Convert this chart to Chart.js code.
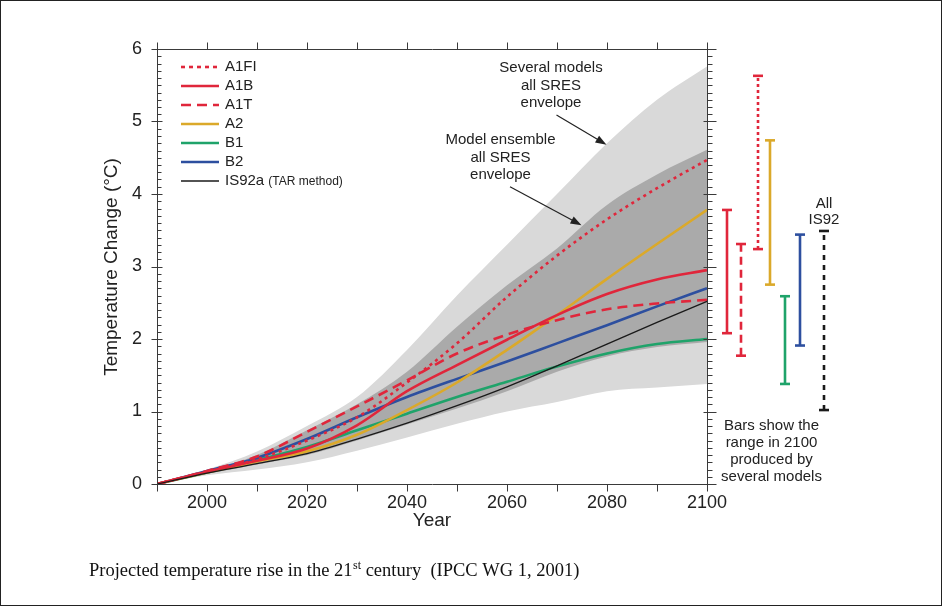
<!DOCTYPE html>
<html>
<head>
<meta charset="utf-8">
<title>Projected temperature rise in the 21st century</title>
<script src="https://cdn.jsdelivr.net/npm/chart.js@4.4.1/dist/chart.umd.min.js"></script>
<style>
  html, body { margin: 0; padding: 0; background: #fff; }
  #wrap { position: relative; width: 942px; height: 606px; }
  #frame { position: absolute; left: 0; top: 0; width: 940px; height: 604px; border: 1px solid #222; pointer-events: none; }
</style>
</head>
<body>
<div id="wrap">
  <canvas id="tempChart" width="942" height="606"></canvas>
  <div id="frame"></div>
</div>
<script>
// values (deg C relative to 1990)
const years = [1990, 2000, 2010, 2020, 2030, 2040, 2050, 2060, 2070, 2080, 2090, 2100];

const a1fi  = [0, 0.17, 0.34, 0.60, 0.92, 1.40, 1.94, 2.58, 3.15, 3.65, 4.08, 4.47];
const a1b   = [0, 0.17, 0.32, 0.49, 0.81, 1.28, 1.64, 1.99, 2.33, 2.62, 2.82, 2.95];
const a1t   = [0, 0.18, 0.38, 0.72, 1.07, 1.43, 1.80, 2.06, 2.26, 2.41, 2.49, 2.54];
const a2    = [0, 0.16, 0.31, 0.45, 0.68, 1.02, 1.40, 1.85, 2.33, 2.83, 3.31, 3.78];
const b1    = [0, 0.16, 0.33, 0.51, 0.74, 0.97, 1.20, 1.41, 1.62, 1.80, 1.93, 2.00];
const b2    = [0, 0.18, 0.36, 0.62, 0.92, 1.20, 1.45, 1.69, 1.94, 2.19, 2.45, 2.70];
const is92a = [0, 0.15, 0.28, 0.42, 0.62, 0.84, 1.08, 1.34, 1.63, 1.93, 2.23, 2.52];

// envelopes
const severalLow  = [0, 0.12, 0.20, 0.30, 0.46, 0.64, 0.83, 1.00, 1.13, 1.28, 1.33, 1.38];
const severalHigh = [0, 0.20, 0.45, 0.80, 1.20, 1.85, 2.60, 3.30, 4.00, 4.70, 5.30, 5.76];
const ensembleLow  = [0, 0.14, 0.27, 0.40, 0.60, 0.82, 1.04, 1.28, 1.55, 1.76, 1.89, 1.96];
const ensembleHigh = [0, 0.18, 0.40, 0.74, 1.10, 1.55, 2.17, 2.74, 3.25, 3.85, 4.27, 4.61];

// range bars in 2100
const barNames = ['A1B', 'A1T', 'A1FI', 'A2', 'B1', 'B2', 'IS92'];
const barMin = [2.08, 1.77, 3.24, 2.75, 1.38, 1.91, 1.02];
const barMax = [3.78, 3.31, 5.63, 4.74, 2.59, 3.44, 3.49];

const xTicks = [2000, 2020, 2040, 2060, 2080, 2100];
const yTicks = [0, 1, 2, 3, 4, 5, 6];

const RED = '#e0263b';
const GOLD = '#dba92a';
const GREEN = '#1fa36a';
const BLUE = '#2d4f9f';
const BLACK = '#1a1a1a';
const LIGHT = '#d9d9d9';
const DARK = '#aaaaaa';
const INK = '#222';
const SANS = '"Liberation Sans", Arial, Helvetica, sans-serif';

const series = [
    { label: 'A1FI', data: a1fi, color: RED, dash: [3, 4], width: 2.6, order: 2 },
    { label: 'A1B', data: a1b, color: RED, dash: [], width: 2.6, order: 4 },
    { label: 'A1T', data: a1t, color: RED, dash: [10, 6], width: 2.6, order: 3 },
    { label: 'A2', data: a2, color: GOLD, dash: [], width: 2.6, order: 5 },
    { label: 'B1', data: b1, color: GREEN, dash: [], width: 2.6, order: 7 },
    { label: 'B2', data: b2, color: BLUE, dash: [], width: 2.6, order: 6 },
    { label: 'IS92a', data: is92a, color: BLACK, dash: [], width: 1.3, order: 1 }
];

// where each range bar sits, in years to the right of 2100, and how it is drawn
const barStyle = {
    A1B:  { slot: 4.0,  color: RED,   dash: [] },
    A1T:  { slot: 6.8,  color: RED,   dash: [8, 5] },
    A1FI: { slot: 10.2, color: RED,   dash: [3, 3] },
    A2:   { slot: 12.6, color: GOLD,  dash: [] },
    B1:   { slot: 15.6, color: GREEN, dash: [] },
    B2:   { slot: 18.6, color: BLUE,  dash: [] },
    IS92: { slot: 23.4, color: BLACK, dash: [5, 5] }
};

function toPoints(values) {
    return years.map((yr, i) => ({ x: yr, y: values[i] }));
}

function bandEdge(values, color, fillTarget, order) {
    return {
        data: toPoints(values),
        borderColor: 'rgba(0,0,0,0)',
        borderWidth: 1,
        backgroundColor: color,
        fill: fillTarget,
        pointRadius: 0,
        cubicInterpolationMode: 'monotone',
        order: order
    };
}

const datasets = [
    bandEdge(severalLow, LIGHT, false, 30),
    bandEdge(severalHigh, LIGHT, 0, 30),
    bandEdge(ensembleLow, DARK, false, 20),
    bandEdge(ensembleHigh, DARK, 2, 20)
];

series.forEach(s => {
    datasets.push({
        label: s.label,
        data: toPoints(s.data),
        borderColor: s.color,
        borderWidth: s.width,
        borderDash: s.dash,
        borderCapStyle: 'butt',
        fill: false,
        pointRadius: 0,
        cubicInterpolationMode: 'monotone',
        order: s.order
    });
});

barNames.forEach((name, i) => {
    const st = barStyle[name];
    const bx = 2100 + st.slot;
    datasets.push({
        label: name + ' range',
        data: [{ x: bx, y: barMin[i] }, { x: bx, y: barMax[i] }],
        borderColor: st.color,
        borderWidth: 2.6,
        borderDash: st.dash,
        fill: false,
        pointStyle: 'line',
        pointRadius: 5,
        pointBorderWidth: 2.6,
        pointBorderColor: st.color,
        order: 0
    });
});

function drawLegend(ctx) {
    const x0 = 181, x1 = 219, tx = 225;
    series.forEach((s, i) => {
        const yy = 67 + i * 19;
        ctx.save();
        ctx.strokeStyle = s.color;
        ctx.lineWidth = s.width;
        ctx.setLineDash(s.label === 'A1FI' ? [4, 4] : s.dash);
        ctx.beginPath();
        ctx.moveTo(x0, yy);
        ctx.lineTo(x1, yy);
        ctx.stroke();
        ctx.restore();

        ctx.fillStyle = INK;
        ctx.textBaseline = 'middle';
        ctx.textAlign = 'left';
        ctx.font = '15px ' + SANS;
        ctx.fillText(s.label, tx, yy);
        if (s.label === 'IS92a') {
            const w = ctx.measureText('IS92a ').width;
            ctx.font = '12px ' + SANS;
            ctx.fillText('(TAR method)', tx + w, yy + 1);
        }
    });
}

function drawArrow(ctx, x1, y1, x2, y2) {
    const ang = Math.atan2(y2 - y1, x2 - x1);
    const c = Math.cos(ang), s = Math.sin(ang);
    const len = 11, half = 4;
    ctx.beginPath();
    ctx.moveTo(x1, y1);
    ctx.lineTo(x2 - c * len * 0.7, y2 - s * len * 0.7);
    ctx.stroke();
    ctx.beginPath();
    ctx.moveTo(x2, y2);
    ctx.lineTo(x2 - c * len + s * half, y2 - s * len - c * half);
    ctx.lineTo(x2 - c * len - s * half, y2 - s * len + c * half);
    ctx.closePath();
    ctx.fill();
}

function textLines(ctx, lines, cx, y0, step) {
    lines.forEach((t, i) => ctx.fillText(t, cx, y0 + i * step));
}

const decor = {
    id: 'decor',
    afterDatasetsDraw(chart) {
        const { ctx, scales: { x, y } } = chart;
        const left = Math.round(x.getPixelForValue(1990)) + 0.5;
        const right = Math.round(x.getPixelForValue(2100)) + 0.5;
        const top = Math.round(y.getPixelForValue(6)) + 0.5;
        const bottom = Math.round(y.getPixelForValue(0)) + 0.5;

        ctx.save();
        ctx.strokeStyle = '#3a3a3a';
        ctx.lineWidth = 1;
        ctx.beginPath();
        ctx.rect(left, top, right - left, bottom - top);

        // year ticks, pointing out of the frame
        for (let yr = 1990; yr <= 2100; yr += 10) {
            const px = Math.round(x.getPixelForValue(yr)) + 0.5;
            ctx.moveTo(px, top); ctx.lineTo(px, top - 7);
            ctx.moveTo(px, bottom); ctx.lineTo(px, bottom + 7);
        }
        // temperature ticks every 0.1
        for (let k = 0; k <= 60; k++) {
            const py = Math.round(y.getPixelForValue(k / 10)) + 0.5;
            if (k % 10 === 0) {
                ctx.moveTo(left - 6, py); ctx.lineTo(left + 5, py);
                ctx.moveTo(right - 4, py); ctx.lineTo(right + 9, py);
            } else {
                ctx.moveTo(left, py); ctx.lineTo(left + 4, py);
                ctx.moveTo(right, py); ctx.lineTo(right + 5, py);
            }
        }
        ctx.stroke();

        // axis titles
        ctx.fillStyle = INK;
        ctx.font = '19px ' + SANS;
        ctx.textAlign = 'center';
        ctx.textBaseline = 'middle';
        ctx.fillText('Year', x.getPixelForValue(2045), 521);
        ctx.save();
        ctx.translate(112, (top + bottom) / 2);
        ctx.rotate(-Math.PI / 2);
        ctx.fillText('Temperature Change (\u00B0C)', 0, 0);
        ctx.restore();

        drawLegend(ctx);

        // envelope notes
        ctx.fillStyle = INK;
        ctx.strokeStyle = INK;
        ctx.lineWidth = 1.2;
        ctx.font = '15px ' + SANS;
        ctx.textAlign = 'center';
        ctx.textBaseline = 'middle';
        textLines(ctx, ['Several models', 'all SRES', 'envelope'], x.getPixelForValue(2068.8), 68, 17.5);
        textLines(ctx, ['Model ensemble', 'all SRES', 'envelope'], x.getPixelForValue(2058.7), 140, 17.5);
        drawArrow(ctx, x.getPixelForValue(2069.9), y.getPixelForValue(5.09),
                       x.getPixelForValue(2079.9), y.getPixelForValue(4.68));
        drawArrow(ctx, x.getPixelForValue(2060.6), y.getPixelForValue(4.10),
                       x.getPixelForValue(2074.9), y.getPixelForValue(3.57));

        // range bar notes
        const isX = x.getPixelForValue(2100 + barStyle.IS92.slot);
        textLines(ctx, ['All', 'IS92'], isX, y.getPixelForValue(barMax[6]) - 27, 15.5);
        textLines(ctx, ['Bars show the', 'range in 2100', 'produced by', 'several models'],
                  x.getPixelForValue(2112.9), 426, 17);

        // caption
        ctx.textAlign = 'left';
        ctx.textBaseline = 'alphabetic';
        ctx.fillStyle = '#111';
        const serif = '"Liberation Serif", "Times New Roman", serif';
        let cx = 89;
        const base = 576;
        ctx.font = '18.5px ' + serif;
        const part1 = 'Projected temperature rise in the 21';
        ctx.fillText(part1, cx, base);
        cx += ctx.measureText(part1).width;
        ctx.font = '12px ' + serif;
        ctx.fillText('st', cx + 0.5, base - 7);
        cx += ctx.measureText('st').width + 0.5;
        ctx.font = '18.5px ' + serif;
        ctx.fillText(' century \u00A0(IPCC WG 1, 2001)', cx, base);

        ctx.restore();
    }
};

const ctx = document.getElementById('tempChart').getContext('2d');
const tempChart = new Chart(ctx, {
    type: 'line',
    data: { datasets: datasets },
    options: {
        responsive: false,
        animation: false,
        devicePixelRatio: 1,
        events: [],
        layout: { padding: { top: 49, right: 85, left: 0, bottom: 0 } },
        plugins: {
            legend: { display: false },
            tooltip: { enabled: false },
            title: { display: false }
        },
        scales: {
            x: {
                type: 'linear',
                min: 1990,
                max: 2130,
                grid: { display: false, drawTicks: false },
                border: { display: false },
                afterBuildTicks: (scale) => { scale.ticks = xTicks.map(v => ({ value: v })); },
                afterFit: (scale) => { scale.height = 122; },
                ticks: {
                    padding: 8,
                    color: INK,
                    maxRotation: 0,
                    autoSkip: false,
                    font: { family: SANS, size: 18 },
                    callback: (v) => String(v)
                }
            },
            y: {
                type: 'linear',
                min: 0,
                max: 6,
                grid: { display: false, drawTicks: false },
                border: { display: false },
                afterBuildTicks: (scale) => { scale.ticks = yTicks.map(v => ({ value: v })); },
                afterFit: (scale) => { scale.width = 157; },
                ticks: {
                    padding: 15,
                    color: INK,
                    font: { family: SANS, size: 18 },
                    callback: (v) => String(v)
                }
            }
        }
    },
    plugins: [decor]
});
</script>
</body>
</html>
